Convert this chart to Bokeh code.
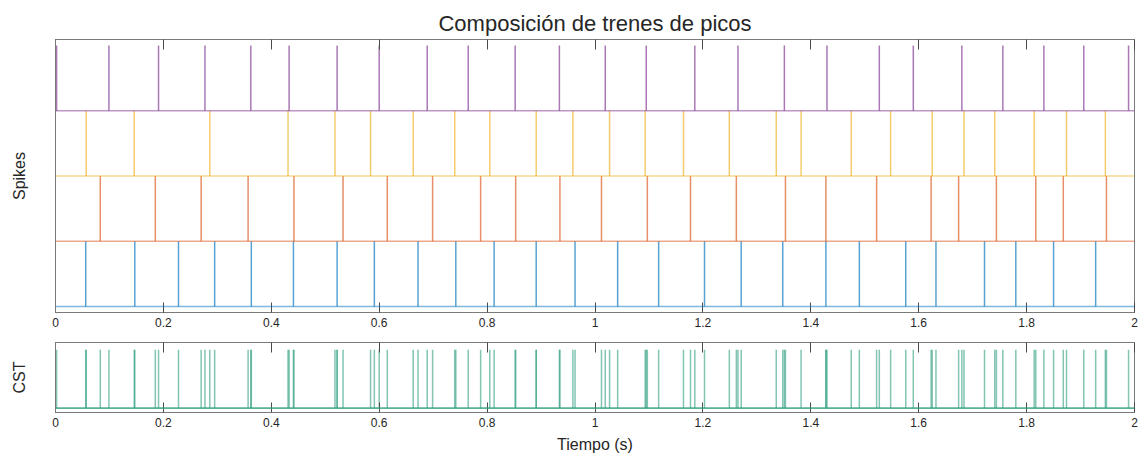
import numpy as np
from bokeh.plotting import figure
from bokeh.layouts import column
from bokeh.models import (FixedTicker, LinearAxis, Span, CustomJSTickFormatter,
                          CustomLabelingPolicy, ColumnDataSource, Range1d)
from bokeh.embed import file_html
from bokeh.resources import INLINE

# Spike times (s) of each train, top row first
purple_times = [0.002, 0.099, 0.191, 0.277, 0.362, 0.433, 0.522, 0.600, 0.689,
                0.765, 0.852, 0.934, 1.019, 1.095, 1.185, 1.265, 1.351, 1.430,
                1.527, 1.590, 1.680, 1.756, 1.832, 1.906, 1.989]
yellow_times = [0.057, 0.146, 0.286, 0.431, 0.518, 0.584, 0.663, 0.740, 0.805,
                0.891, 0.959, 1.027, 1.093, 1.164, 1.249, 1.336, 1.382, 1.475,
                1.548, 1.625, 1.684, 1.741, 1.814, 1.874, 1.946]
orange_times = [0.083, 0.185, 0.270, 0.357, 0.442, 0.533, 0.615, 0.699, 0.788,
                0.853, 0.935, 1.012, 1.097, 1.177, 1.262, 1.353, 1.428, 1.522,
                1.623, 1.674, 1.744, 1.817, 1.868, 1.948]
blue_times = [0.056, 0.147, 0.228, 0.295, 0.363, 0.441, 0.522, 0.591, 0.672,
              0.742, 0.813, 0.891, 0.963, 1.042, 1.118, 1.203, 1.271, 1.348,
              1.428, 1.490, 1.576, 1.632, 1.722, 1.780, 1.850, 1.928]

trains = [blue_times, orange_times, yellow_times, purple_times]  # bottom -> top
train_colors = ["#0072BD", "#D95319", "#EDB120", "#7E2F8E"]
cst_color = "#2f9e80"

t_start, t_end = 0.0, 2.0
x_ticks = [0.0, 0.2, 0.4, 0.6, 0.8, 1.0, 1.2, 1.4, 1.6, 1.8, 2.0]

FONT = "Liberation Sans"
AX_COLOR = "#7a7a7a"
TXT_COLOR = "#262626"

tick_fmt = CustomJSTickFormatter(code="return String(Math.round(tick*10)/10);")
# top axis only carries tick marks, no labels
no_labels = CustomLabelingPolicy(code="""
for (const i of indices)
    indices.unset(i)
return indices
""")


def style_box(p, ylabel):
    p.toolbar_location = None
    p.background_fill_color = "white"
    p.border_fill_color = "white"
    p.outline_line_color = AX_COLOR
    p.outline_line_width = 1
    p.xgrid.visible = False
    p.ygrid.visible = False

    xa = p.below[0]
    xa.ticker = FixedTicker(ticks=x_ticks)
    xa.formatter = tick_fmt
    xa.major_tick_in = 10
    xa.major_tick_out = 0
    xa.minor_tick_line_color = None
    xa.axis_line_color = AX_COLOR
    xa.major_tick_line_color = "#4a4a4a"
    xa.major_label_text_font = FONT
    xa.major_label_text_font_size = "12px"
    xa.major_label_text_color = TXT_COLOR
    xa.major_label_standoff = 5

    ya = p.left[0]
    ya.ticker = FixedTicker(ticks=[])
    ya.minor_tick_line_color = None
    ya.major_tick_line_color = None
    ya.axis_line_color = AX_COLOR
    ya.axis_label = ylabel
    ya.axis_label_text_font = FONT
    ya.axis_label_text_font_size = "16px"
    ya.axis_label_text_font_style = "normal"
    ya.axis_label_text_color = TXT_COLOR
    ya.axis_label_standoff = 28

    top = LinearAxis(ticker=FixedTicker(ticks=x_ticks), formatter=tick_fmt,
                     major_tick_in=10, major_tick_out=0,
                     minor_tick_line_color=None,
                     axis_line_color=AX_COLOR,
                     major_tick_line_color="#4a4a4a",
                     major_label_text_font_size="0px",
                     major_label_standoff=0,
                     major_label_policy=no_labels)
    p.add_layout(top, "above")


# ---- spike raster ----
p1 = figure(width=1140, height=340, output_backend="svg", toolbar_location=None,
            x_range=Range1d(t_start, t_end), y_range=Range1d(-0.092, 4.092),
            min_border_left=55, min_border_right=6, min_border_top=39,
            min_border_bottom=28)
p1.title.text = "Composición de trenes de picos"
p1.title.align = "center"
p1.title.text_font = FONT
p1.title.text_font_size = "22px"
p1.title.text_font_style = "normal"
p1.title.text_color = TXT_COLOR
p1.title.standoff = 8
style_box(p1, "Spikes")

for row, (times, col) in enumerate(zip(trains, train_colors)):
    t = np.asarray(times, dtype=float)
    src = ColumnDataSource(dict(x=t, y0=np.full(t.size, row, dtype=float),
                                y1=np.full(t.size, row + 1, dtype=float)))
    p1.add_layout(Span(location=row, dimension="width", line_color=col,
                       line_alpha=0.5, line_width=1.6))
    p1.segment(x0="x", y0="y0", x1="x", y1="y1", source=src,
               line_color=col, line_alpha=0.65, line_width=1.5)

# ---- composite spike train ----
cst_times = np.sort(np.concatenate([np.asarray(tr, dtype=float) for tr in trains]))

p2 = figure(width=1140, height=116, output_backend="svg", toolbar_location=None,
            x_range=p1.x_range, y_range=Range1d(-0.075, 1.125),
            min_border_left=55, min_border_right=6, min_border_top=2,
            min_border_bottom=44)
style_box(p2, "CST")
xb = p2.below[0]
xb.axis_label = "Tiempo (s)"
xb.axis_label_text_font = FONT
xb.axis_label_text_font_size = "16px"
xb.axis_label_text_font_style = "normal"
xb.axis_label_text_color = TXT_COLOR
xb.axis_label_standoff = 6

src_c = ColumnDataSource(dict(x=cst_times, y0=np.zeros(cst_times.size),
                              y1=np.ones(cst_times.size)))
p2.add_layout(Span(location=0, dimension="width", line_color=cst_color,
                   line_alpha=0.8, line_width=1.6))
p2.segment(x0="x", y0="y0", x1="x", y1="y1", source=src_c,
           line_color=cst_color, line_alpha=0.6, line_width=1.5)

layout = column(p1, p2, spacing=0)
open("out.html", "w").write(file_html(layout, INLINE))
